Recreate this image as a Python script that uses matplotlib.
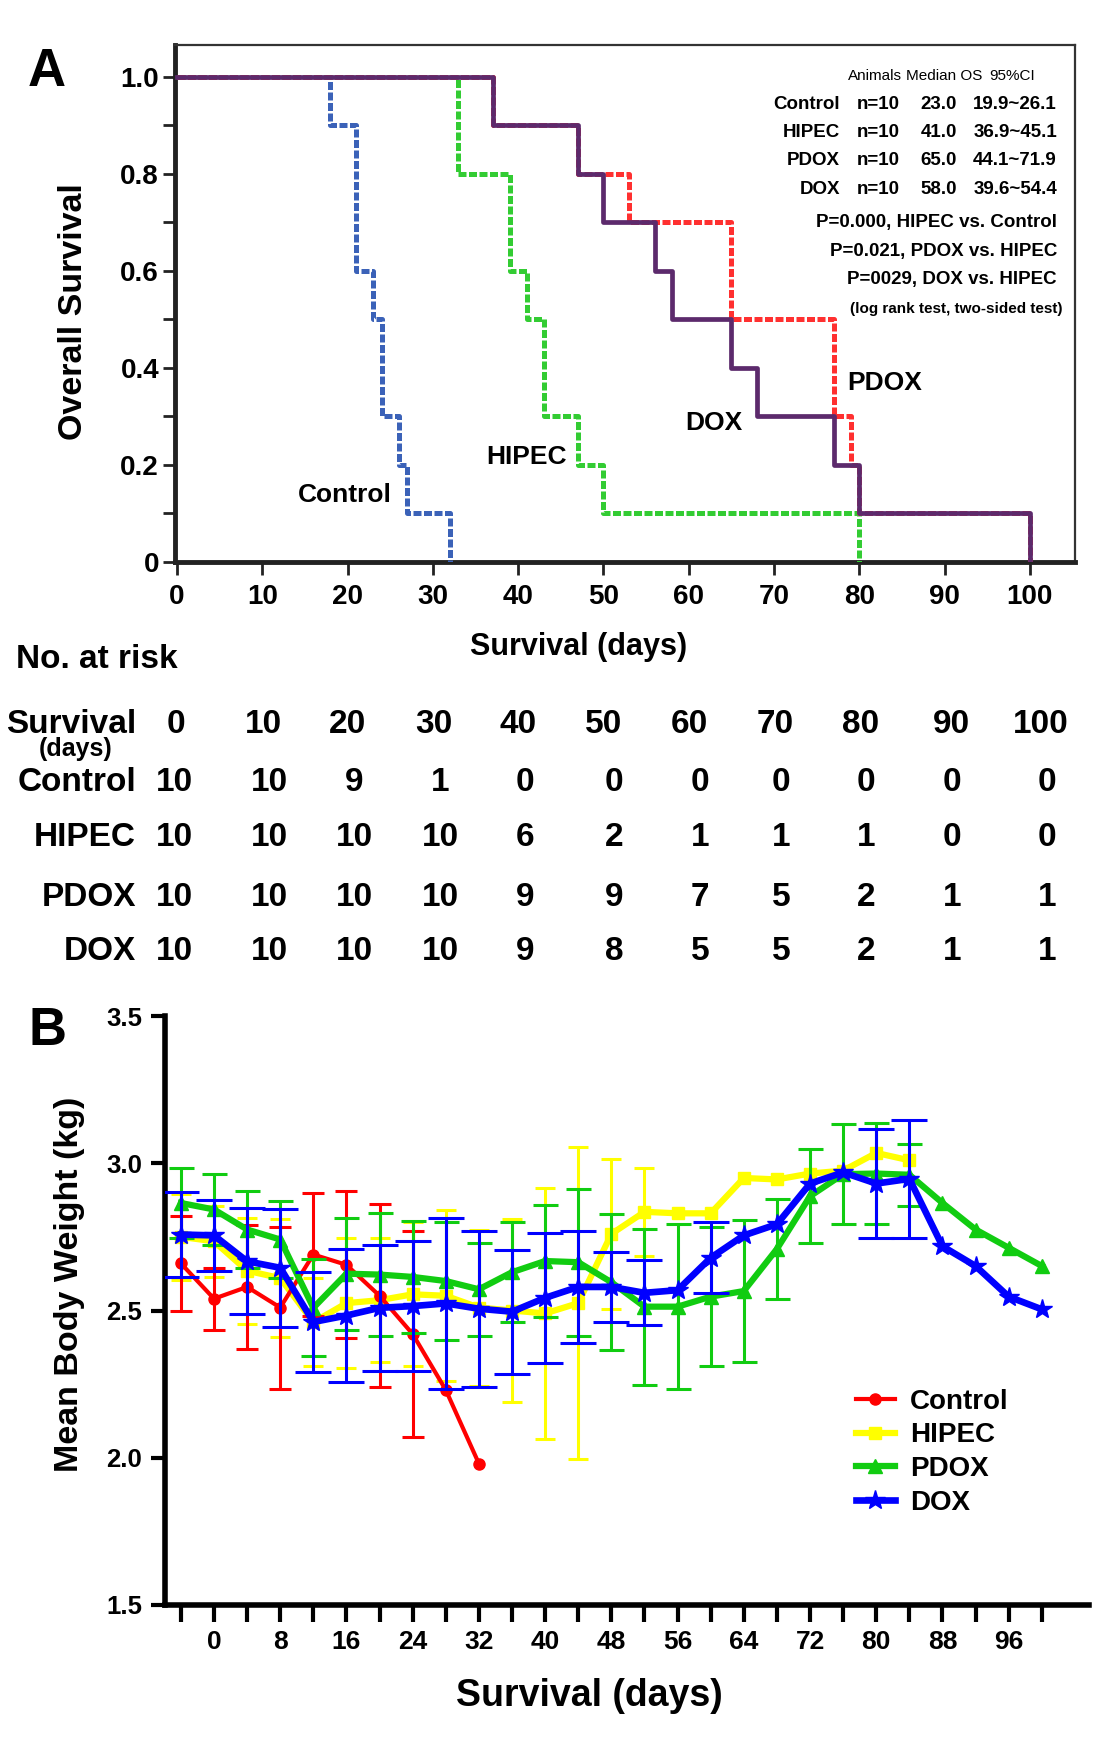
import numpy as np
import matplotlib
matplotlib.use("Agg")
import matplotlib.pyplot as plt
from matplotlib.lines import Line2D

plt.rcParams['font.family'] = ['Liberation Sans', 'DejaVu Sans']
plt.rcParams['font.weight'] = 'bold'

# ---------------- Panel A data (Kaplan-Meier steps) ----------------
control_t = [0, 18, 21, 23, 24, 26, 27, 32]
control_s = [1.0, 0.9, 0.6, 0.5, 0.3, 0.2, 0.1, 0.0]
hipec_t = [0, 33, 39, 41, 43, 47, 50, 80]
hipec_s = [1.0, 0.8, 0.6, 0.5, 0.3, 0.2, 0.1, 0.0]
pdox_t = [0, 37, 47, 53, 65, 77, 79, 80, 100]
pdox_s = [1.0, 0.9, 0.8, 0.7, 0.5, 0.3, 0.2, 0.1, 0.0]
dox_t = [0, 37, 47, 50, 56, 58, 65, 68, 77, 80, 100]
dox_s = [1.0, 0.9, 0.8, 0.7, 0.6, 0.5, 0.4, 0.3, 0.2, 0.1, 0.0]

groups = ['Control', 'HIPEC', 'PDOX', 'DOX']
n_animals = ['n=10', 'n=10', 'n=10', 'n=10']
median_os = ['23.0', '41.0', '65.0', '58.0']
ci95 = ['19.9~26.1', '36.9~45.1', '44.1~71.9', '39.6~54.4']
p_lines = ['P=0.000, HIPEC vs. Control', 'P=0.021, PDOX vs. HIPEC',
           'P=0029, DOX vs. HIPEC']
test_note = '(log rank test, two-sided test)'

risk_days = [0, 10, 20, 30, 40, 50, 60, 70, 80, 90, 100]
risk_control = [10, 10, 9, 1, 0, 0, 0, 0, 0, 0, 0]
risk_hipec = [10, 10, 10, 10, 6, 2, 1, 1, 1, 0, 0]
risk_pdox = [10, 10, 10, 10, 9, 9, 7, 5, 2, 1, 1]
risk_dox = [10, 10, 10, 10, 9, 8, 5, 5, 2, 1, 1]

# ---------------- Panel B data (body weight) ----------------
days = [-4, 0, 4, 8, 12, 16, 20, 24, 28, 32, 36, 40, 44, 48, 52, 56, 60,
        64, 68, 72, 76, 80, 84, 88, 92, 96, 100]
ctrl_mean = [2.66, 2.54, 2.58, 2.51, 2.69, 2.655, 2.55, 2.42, 2.23, 1.98]
ctrl_err = [0.16, 0.105, 0.21, 0.275, 0.21, 0.25, 0.31, 0.35, np.nan, np.nan]
hipec_mean = [2.75, 2.735, 2.635, 2.61, 2.46, 2.525, 2.535, 2.555, 2.55, 2.51,
              2.50, 2.49, 2.525, 2.76, 2.835, 2.83, 2.83, 2.95, 2.945, 2.965,
              2.975, 3.035, 3.01]
hipec_err = [0.145, 0.12, 0.18, 0.2, 0.15, 0.22, 0.21, 0.245, 0.29, 0.265,
             0.31, 0.425, 0.53, 0.255, 0.15, np.nan, np.nan, np.nan, np.nan,
             np.nan, np.nan, np.nan, np.nan]
pdox_mean = [2.865, 2.843, 2.775, 2.741, 2.509, 2.625, 2.622, 2.614, 2.60,
             2.572, 2.63, 2.668, 2.664, 2.596, 2.513, 2.513, 2.547, 2.566,
             2.709, 2.888, 2.963, 2.965, 2.961, 2.865, 2.775, 2.713, 2.651]
pdox_err = [0.12, 0.12, 0.13, 0.13, 0.165, 0.19, 0.21, 0.19, 0.2, 0.157,
            0.17, 0.19, 0.25, 0.23, 0.265, 0.28, 0.235, 0.24, 0.17, 0.16,
            0.17, 0.17, 0.105, np.nan, np.nan, np.nan, np.nan]
dox_mean = [2.758, 2.755, 2.667, 2.645, 2.461, 2.483, 2.509, 2.515, 2.524,
            2.506, 2.496, 2.543, 2.58, 2.58, 2.56, 2.569, 2.679, 2.755, 2.793,
            2.931, 2.969, 2.931, 2.947, 2.718, 2.651, 2.547, 2.504]
dox_err = [0.145, 0.12, 0.18, 0.2, 0.17, 0.225, 0.215, 0.22, 0.29, 0.265,
           0.21, 0.22, 0.19, 0.12, 0.11, np.nan, 0.12, np.nan, np.nan, np.nan,
           np.nan, 0.185, 0.2, np.nan, np.nan, np.nan, np.nan]

# ---------------- layout helpers ----------------
W, H = 1102, 1763
fig = plt.figure(figsize=(W / 100, H / 100), dpi=100)


def fx(x):
    return x / W


def fy(y):
    return 1 - y / H


def T(x, y, s, size, ha='left', weight='bold', **kw):
    # y = visual centre of capitals (pixels)
    em = size / 0.72
    fig.text(fx(x), fy(y + 0.36 * em), s, fontsize=size, ha=ha,
             va='baseline', fontweight=weight, **kw)


# ================= Panel A =================
axA = fig.add_axes([fx(175), fy(562), fx(1075) - fx(175), fy(45) - fy(562)])
axA.step(control_t, control_s, where='post', color='#3b62b8', lw=3.6,
         ls=(0, (1.6, 0.5)), zorder=3)
axA.step(hipec_t, hipec_s, where='post', color='#33cc33', lw=3.6,
         ls=(0, (1.6, 0.5)), zorder=3)
axA.step(pdox_t, pdox_s, where='post', color='#ff3030', lw=3.6,
         ls=(0, (1.6, 0.5)), zorder=3)
axA.step(dox_t, dox_s, where='post', color='#5c2a6c', lw=3.4, zorder=4)

axA.set_xlim(-0.23, 105.3)
axA.set_ylim(0, 1.065)
axA.set_xticks(range(0, 101, 10))
axA.set_xticklabels([str(v) for v in range(0, 101, 10)])
yt = np.round(np.arange(0, 1.01, 0.1), 1)
axA.set_yticks(yt)
axA.set_yticklabels(['0' if v == 0 else (f'{v:.1f}' if round(v * 10) % 2 == 0 else '')
                     for v in yt])
axA.tick_params(axis='x', direction='out', length=9, width=2, labelsize=20,
                pad=7, color='#222222')
axA.tick_params(axis='y', direction='out', length=9, width=2, labelsize=20,
                pad=2.5, color='#222222')
for sp in ['left', 'bottom']:
    axA.spines[sp].set_linewidth(3.5)
    axA.spines[sp].set_color('#222222')
for sp in ['top', 'right']:
    axA.spines[sp].set_linewidth(1.6)
    axA.spines[sp].set_color('#333333')

fig.text(fx(73), fy(312), 'Overall Survival', rotation=90, fontsize=24.5,
         ha='center', va='center', fontweight='bold')
T(579, 644, 'Survival (days)', 22, ha='center')
T(28, 67, 'A', 38)

# curve labels
T(345, 492, 'Control', 19, ha='center')
T(526, 455, 'HIPEC', 19, ha='center')
T(714, 421, 'DOX', 19, ha='center')
T(885, 381, 'PDOX', 19, ha='center')

# statistics block
T(875, 75, 'Animals', 11, ha='center', weight='normal')
T(944, 75, 'Median OS', 11, ha='center', weight='normal')
T(1012, 75, '95%CI', 11, ha='center', weight='normal')
row_y = [102, 130, 158, 187]
for g, n, m, c, yy in zip(groups, n_animals, median_os, ci95, row_y):
    T(840, yy, g, 13.5, ha='right')
    T(878, yy, n, 13.5, ha='center')
    T(939, yy, m, 13.5, ha='center')
    T(1015, yy, c, 13.5, ha='center')
for p, yy in zip(p_lines, [220, 249, 277]):
    T(1057, yy, p, 13.5, ha='right')
T(1063, 307, test_note, 11, ha='right')

# number at risk table
T(16, 656, 'No. at risk', 24)
head_x = [176, 263, 347, 434, 518, 604, 689, 775, 861, 951, 1041]
col_x = [174, 269, 354, 440, 525, 614, 700, 781, 866, 952, 1047]
T(136, 721, 'Survival', 24, ha='right')
T(76, 747, '(days)', 18, ha='center')
for d, x in zip(risk_days, head_x):
    T(x, 721, str(d), 24, ha='center')
for name, vals, yy in zip(groups, [risk_control, risk_hipec, risk_pdox, risk_dox],
                          [779, 834, 894, 948]):
    T(136, yy, name, 24, ha='right')
    for v, x in zip(vals, col_x):
        T(x, yy, str(v), 24, ha='center')

# ================= Panel B =================
axB = fig.add_axes([fx(165), fy(1605), fx(1089) - fx(165), fy(1016) - fy(1605)])
series = [
    (hipec_mean, hipec_err, '#ffff00', 's', 8.5, 4.5, 7, 2),
    (ctrl_mean, ctrl_err, '#ff0000', 'o', 8, 3.0, 8, 3),
    (pdox_mean, pdox_err, '#11cc11', '^', 10, 4.5, 9, 4),
    (dox_mean, dox_err, '#0000ff', '*', 15, 4.8, 13, 5),
]
for mean, err, col, mk, ms, lw, cs, z in series:
    n = len(mean)
    axB.errorbar(days[:n], mean, yerr=err, color=col, marker=mk, ms=ms,
                 mec=col, mfc=col, lw=lw, elinewidth=2.2, capsize=cs,
                 capthick=2.2, zorder=z)

axB.set_xlim(-5.92, 105.7)
axB.set_ylim(1.5, 3.5)
axB.set_xticks(days)
axB.set_xticklabels([str(d) if (d >= 0 and d % 8 == 0 and d <= 96) else ''
                     for d in days])
axB.set_yticks([1.5, 2.0, 2.5, 3.0, 3.5])
axB.set_yticklabels(['1.5', '2.0', '2.5', '3.0', '3.5'])
axB.tick_params(axis='x', direction='out', length=12, width=3, labelsize=19,
                pad=6)
axB.tick_params(axis='y', direction='out', length=10, width=3, labelsize=18.5,
                pad=6.5)
for sp in ['top', 'right']:
    axB.spines[sp].set_visible(False)
for sp in ['left', 'bottom']:
    axB.spines[sp].set_linewidth(4)
    axB.spines[sp].set_color('black')

fig.text(fx(70), fy(1284), 'Mean Body Weight (kg)', rotation=90,
         fontsize=24.5, ha='center', va='center', fontweight='bold')
T(589, 1692, 'Survival (days)', 27, ha='center')
T(28, 1026, 'B', 38)

handles = [Line2D([], [], color=c, marker=m, ms=ms, lw=lw)
           for (_, _, c, m, ms, lw, _, _) in [series[1], series[0], series[2], series[3]]]
leg = fig.legend(handles, groups, loc='upper left',
                 bbox_to_anchor=(fx(856), fy(1389)), frameon=False,
                 prop={'size': 20, 'weight': 'bold'}, handlelength=1.4,
                 handletextpad=0.55, labelspacing=0.27, borderpad=0,
                 borderaxespad=0)

fig.savefig('out.png', dpi=100)
